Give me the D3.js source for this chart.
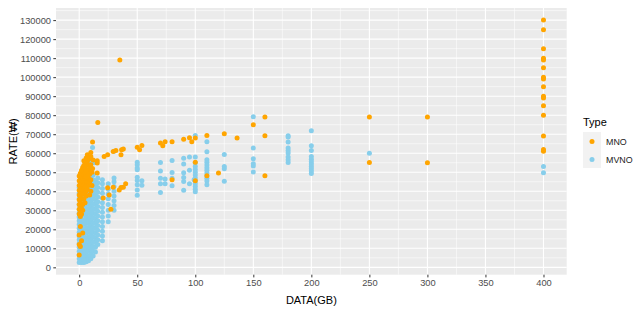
<!DOCTYPE html>
<html><head><meta charset="utf-8">
<script src="https://cdn.jsdelivr.net/npm/d3@7"></script>
<style>
body{margin:0;background:#fff}
text{font-family:"Liberation Sans",Arial,sans-serif}
</style>
</head><body>
<svg id="chart" width="638" height="327"></svg>
<script>
// ---------- data ----------
const types = ["MNO", "MVNO"];
const typeColors = ["#FFA500", "#87CEEB"];
const xTicks = [0, 50, 100, 150, 200, 250, 300, 350, 400];
const yTicks = [0, 10000, 20000, 30000, 40000, 50000, 60000, 70000, 80000, 90000, 100000, 110000, 120000, 130000];
const xTitle = "DATA(GB)";
const yTitle = "RATE(₩)";
const legendTitle = "Type";

// MVNO plans: [data GB, rate won]
const mvnoPoints = [
  [0,2500],[0,4500],[0,6500],[0,8500],[0,10500],[0,12500],[0,14500],[0,16500],[0,18500],[0,20500],[0,22500],[0,24500],[0,26500],[0,28500],[0,30500],[0,33000],[0,36000],[0,39000],[0,42000],
  [1,3000],[1,5500],[1,8000],[1,10000],[1,13000],[1,15500],[1,18000],[1,21000],[1,23500],[1,26000],[1,29000],[1,32000],[1,35000],[1,38000],[1,41000],[1,44000],
  [2,2500],[2,4000],[2,6000],[2,9000],[2,11500],[2,14000],[2,17000],[2,19500],[2,22000],[2,25000],[2,27500],[2,30000],[2,34000],[2,37000],[2,40000],[2,43000],[2,46000],
  [3,3500],[3,7000],[3,12000],[3,16000],[3,20000],[3,24000],[3,28000],[3,31000],[3,35000],[3,39000],[3,45000],[3,48000],
  [4,2500],[4,5000],[4,7500],[4,10000],[4,12500],[4,15000],[4,17500],[4,20000],[4,22500],[4,25000],[4,27500],[4,30000],[4,32500],[4,35000],[4,37500],[4,40000],[4,42500],[4,45000],[4,47500],
  [5,3000],[5,6000],[5,9000],[5,13500],[5,18500],[5,23500],[5,28500],[5,33500],[5,38500],[5,43500],[5,49000],
  [6,3000],[6,5500],[6,8000],[6,10500],[6,13000],[6,15500],[6,18000],[6,20500],[6,23000],[6,25500],[6,28000],[6,30500],[6,33000],[6,35500],[6,38000],[6,41000],[6,44000],[6,47000],[6,50000],
  [7,4000],[7,11000],[7,19000],[7,26000],[7,34000],[7,42000],[7,53000],
  [8,3500],[8,6000],[8,8500],[8,11000],[8,13500],[8,16000],[8,18500],[8,21000],[8,23500],[8,26000],[8,28500],[8,31000],[8,33500],[8,36000],[8,38500],[8,41000],[8,43500],[8,46000],[8,49000],
  [9,5000],[9,15000],[9,25000],[9,35000],[9,45000],[9,56000],
  [10,4500],[10,7000],[10,9500],[10,12000],[10,14500],[10,17000],[10,19500],[10,22000],[10,24500],[10,27000],[10,29500],[10,32000],[10,34500],[10,37000],[10,39500],[10,42000],[10,44500],[10,47000],[10,50000],
  [11.5,63000],
  [12,6000],[12,8500],[12,11000],[12,13500],[12,16000],[12,18500],[12,21000],[12,23500],[12,26000],[12,28500],[12,31000],[12,33500],[12,36000],[12,38500],[12,41000],[12,43500],[12,46000],[12,48500],
  [13,55000],
  [14,8000],[14,10500],[14,13000],[14,15500],[14,18000],[14,20500],[14,23000],[14,25500],[14,28000],[14,30500],[14,33000],[14,35500],[14,38000],[14,40500],[14,43000],[14,45500],
  [16,12000],[16,14500],[16,17000],[16,19500],[16,22000],[16,24500],[16,27000],[16,29500],[16,32000],[16,34500],[16,37000],[16,39500],[16,42000],[16,44500],[16,47000],
  [20,14000],[20,16500],[20,19000],[20,21500],[20,24000],[20,26500],[20,29000],[20,31500],[20,34000],[20,36500],[20,39000],[20,41500],[20,44000],[20,46000],
  [25,24000],[25,27000],[25,30000],[25,33000],[25,36000],[25,38500],[25,41000],[25,44000],
  [30,30000],[30,32500],[30,35000],[30,37500],[30,40000],[30,42500],[30,45000],[30,47000],[30,61000],
  [50,55300],[50,53900],[50,52200],[50,51300],[50,47400],[50,45700],[50,43400],[50,40700],[50,37900],
  [54,45500],[54,43200],
  [70,55100],[70,50600],[70,46900],[70,43900],[70,39300],
  [74,46500],[74,43900],
  [80,56200],[80,49900],[80,46800],[80,42900],
  [90,57400],[90,54300],[90,49700],[90,47200],[90,45100],[90,40600],
  [95,58000],[95,51000],[95,44000],
  [99,46000],
  [100,69300],[100,58000],[100,55000],[100,53000],[100,51500],[100,50000],[100,48500],[100,47000],[100,45500],[100,44000],[100,42500],[100,41000],[100,39700],
  [110,66000],[110,60800],[110,56600],[110,55200],[110,53800],[110,52400],[110,51000],[110,49600],[110,48200],[110,46800],[110,45400],[110,43400],
  [125,59300],[125,53000],[125,51800],[125,45300],
  [150,79200],[150,62700],[150,57100],[150,54500],[150,53300],[150,50100],
  [180,69200],[180,68500],[180,65900],[180,62700],[180,61500],[180,60100],[180,58000],[180,56600],[180,55100],
  [200,71800],[200,63900],[200,61500],[200,58300],[200,56900],[200,55500],[200,54300],[200,53000],[200,51800],[200,50600],[200,49300],
  [250,60000],
  [400,53000],[400,49700]
];

// MNO plans: [data GB, rate won]
const mnoPoints = [
  [0,28000],[0,30500],[0,33000],[0,35500],[0,38000],[0,40500],[0,43000],[0,45500],[0,48000],[0,12000],[0,17000],[0,6500],
  [1,29500],[1,32000],[1,34500],[1,37000],[1,39500],[1,42000],[1,44500],[1,47000],[1,49500],[1,21500],[1,26700],[1,11000],
  [2,28000],[2,31000],[2,36000],[2,38500],[2,41000],[2,43500],[2,46000],[2,48500],[2,51000],[2,14000],
  [3,30000],[3,33000],[3,40000],[3,42500],[3,45000],[3,47500],[3,50000],[3,52500],[3,18000],
  [4,36000],[4,38500],[4,41000],[4,43500],[4,46000],[4,48500],[4,51000],[4,53500],[4,56000],
  [5,34000],[5,39000],[5,42000],[5,44500],[5,47000],[5,49500],[5,52000],[5,55000],
  [6,37500],[6,40000],[6,43000],[6,46000],[6,48500],[6,51000],[6,54000],[6,57500],
  [7,41000],[7,45000],[7,48000],[7,55700],[7,59200],
  [8,43000],[8,47000],[8,50500],[8,53500],[8,57000],
  [9,38000],[9,45000],[9,49000],[9,52000],[9,57400],
  [10,40000],[10,54000],[10,60400],[10,58300],[10,46000],
  [11,43000],[11,50000],
  [11.5,65900],[11.5,52000],
  [12,56500],
  [15.5,56000],[15.5,54800],[15.5,49600],
  [16,76200],
  [21.5,58300],[24.5,59200],[29.3,60900],[31.6,61500],[36.5,61800],[36,59200],[38,62200],
  [35,109000],
  [24.5,41900],[25.8,38100],[27.3,30600],[20.7,36400],[29.3,42100],[36,42000],[38,42100],[40,43900],[34.5,40700],
  [50,63200],[52,61800],[54,64100],
  [70,65400],[72,63900],[74,66000],[80,66000],[80,46000],
  [90,67400],[95,68200],[97,66000],[100,68000],[100,55200],[100,45500],
  [110,69300],[110,48100],[120,49600],[125,70200],[136,68000],
  [150,75000],[160,79000],[160,69200],[160,48100],
  [250,79000],[250,55100],[300,79000],[300,55000],
  [400,130000],[400,125000],[400,115000],[400,110000],[400,109000],[400,105000],[400,100000],[400,99000],
  [400,95000],[400,90000],[400,89000],[400,85000],[400,80000],[400,69000],[400,62000],[400,61000]
];

// ---------- layout ----------
const svg = d3.select("#chart");
const W = 638, H = 327;
const panel = {left: 56, top: 8, right: 566.7, bottom: 274.7};

const allPts = mvnoPoints.concat(mnoPoints);
const xExt = d3.extent(allPts, d => d[0]);
const yExt = d3.extent(allPts, d => d[1]);
const xPad = (xExt[1] - xExt[0]) * 0.05, yPad = (yExt[1] - yExt[0]) * 0.05;

const x = d3.scaleLinear().domain([xExt[0] - xPad, xExt[1] + xPad]).range([panel.left, panel.right]);
const y = d3.scaleLinear().domain([yExt[0] - yPad, yExt[1] + yPad]).range([panel.bottom, panel.top]);

svg.append("rect").attr("width", W).attr("height", H).attr("fill", "#fff");
svg.append("rect")
  .attr("x", panel.left).attr("y", panel.top)
  .attr("width", panel.right - panel.left).attr("height", panel.bottom - panel.top)
  .attr("fill", "#ebebeb");

// minor grid
const xMinor = xTicks.slice(0, -1).map((t, i) => (t + xTicks[i + 1]) / 2);
const yStep = yTicks[1] - yTicks[0];
const yMinor = yTicks.map(t => t + yStep / 2).filter(v => v < y.domain()[1]);
const grid = svg.append("g");
grid.selectAll(".xm").data(xMinor).join("line")
  .attr("x1", d => x(d)).attr("x2", d => x(d)).attr("y1", panel.top).attr("y2", panel.bottom)
  .attr("stroke", "#fff").attr("stroke-width", 0.55);
grid.selectAll(".ym").data(yMinor).join("line")
  .attr("y1", d => y(d)).attr("y2", d => y(d)).attr("x1", panel.left).attr("x2", panel.right)
  .attr("stroke", "#fff").attr("stroke-width", 0.55);
// major grid
grid.selectAll(".xM").data(xTicks).join("line")
  .attr("x1", d => x(d)).attr("x2", d => x(d)).attr("y1", panel.top).attr("y2", panel.bottom)
  .attr("stroke", "#fff").attr("stroke-width", 1.1);
grid.selectAll(".yM").data(yTicks).join("line")
  .attr("y1", d => y(d)).attr("y2", d => y(d)).attr("x1", panel.left).attr("x2", panel.right)
  .attr("stroke", "#fff").attr("stroke-width", 1.1);

// axes
const xAxis = d3.axisBottom(x).tickValues(xTicks).tickSize(2.7).tickPadding(2.5).tickFormat(d3.format("d"));
const yAxis = d3.axisLeft(y).tickValues(yTicks).tickSize(2.7).tickPadding(2.3).tickFormat(d3.format("d"));
const gx = svg.append("g").attr("transform", `translate(0,${panel.bottom})`).call(xAxis);
const gy = svg.append("g").attr("transform", `translate(${panel.left},0)`).call(yAxis);
[gx, gy].forEach(g => {
  g.select(".domain").remove();
  g.selectAll(".tick line").attr("stroke", "#333").attr("stroke-width", 1);
  g.selectAll(".tick text").attr("fill", "#4d4d4d").attr("font-size", "9.3px")
    .attr("font-family", '"Liberation Sans", Arial, sans-serif');
});

// points
const r = 2.5;
svg.append("g").selectAll("circle").data(mvnoPoints).join("circle")
  .attr("cx", d => x(d[0])).attr("cy", d => y(d[1])).attr("r", r).attr("fill", typeColors[1]);
svg.append("g").selectAll("circle").data(mnoPoints).join("circle")
  .attr("cx", d => x(d[0])).attr("cy", d => y(d[1])).attr("r", r).attr("fill", typeColors[0]);

// axis titles
svg.append("text").attr("x", (panel.left + panel.right) / 2).attr("y", 303.5)
  .attr("text-anchor", "middle").attr("font-size", "11px").attr("fill", "#000").text(xTitle);
svg.append("text").attr("transform", `translate(16.5,${(panel.top + panel.bottom) / 2}) rotate(-90)`)
  .attr("text-anchor", "middle").attr("font-size", "11px").attr("fill", "#000").text(yTitle);

// legend
const lg = svg.append("g").attr("transform", "translate(583,0)");
lg.append("text").attr("x", 0).attr("y", 125.5).attr("font-size", "11px").attr("fill", "#000").text(legendTitle);
const keys = lg.selectAll(".key").data(types).join("g").attr("transform", (d, i) => `translate(0,${132 + i * 18})`);
keys.append("rect").attr("width", 18).attr("height", 18).attr("fill", "#f2f2f2");
keys.append("circle").attr("cx", 9).attr("cy", 9.5).attr("r", r).attr("fill", (d, i) => typeColors[i]);
keys.append("text").attr("x", 23).attr("y", 9.5).attr("dy", "0.35em").attr("font-size", "8.9px").attr("fill", "#1a1a1a").text(d => d);
</script>
</body></html>
